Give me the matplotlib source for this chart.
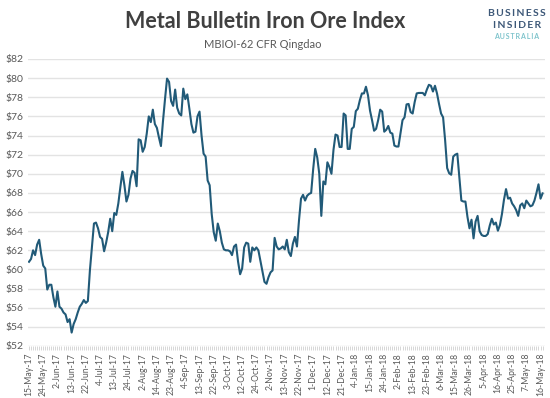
import matplotlib
matplotlib.use("Agg")
import matplotlib.pyplot as plt
import numpy as np

plt.rcParams['font.family'] = ['Lato', 'DejaVu Sans']

# x-axis labels, one every 7 trading days
tick_labels = [
    "15-May-17", "24-May-17", "2-Jun-17", "13-Jun-17", "22-Jun-17", "4-Jul-17",
    "13-Jul-17", "24-Jul-17", "2-Aug-17", "14-Aug-17", "23-Aug-17", "4-Sep-17",
    "13-Sep-17", "22-Sep-17", "3-Oct-17", "12-Oct-17", "24-Oct-17", "2-Nov-17",
    "13-Nov-17", "22-Nov-17", "1-Dec-17", "12-Dec-17", "21-Dec-17", "4-Jan-18",
    "15-Jan-18", "24-Jan-18", "2-Feb-18", "13-Feb-18", "23-Feb-18", "6-Mar-18",
    "15-Mar-18", "26-Mar-18", "5-Apr-18", "16-Apr-18", "25-Apr-18", "7-May-18",
    "16-May-18",
]

# daily index values (USD/t)
prices = [
    60.8, 61.1, 62.0, 61.5, 62.6, 63.1, 61.6, 60.4, 60.1, 57.9,
    58.4, 58.4, 57.1, 56.1, 57.7, 56.1, 55.9, 55.5, 55.3, 54.5,
    54.8, 53.4, 54.3, 54.8, 55.5, 56.1, 56.4, 56.8, 56.5, 56.7,
    59.9, 62.3, 64.8, 64.9, 64.3, 63.4, 63.2, 61.9, 62.8, 63.9,
    65.3, 64.0, 65.9, 65.7, 66.9, 68.6, 70.2, 68.8, 67.1, 67.8,
    69.5, 70.3, 70.1, 68.7, 73.6, 73.5, 72.3, 72.8, 74.2, 76.0,
    75.4, 76.7, 75.2, 74.8, 73.8, 72.9, 75.5, 77.8, 79.95, 79.6,
    77.6, 77.1, 78.8, 76.9, 76.3, 76.1, 78.9, 77.8, 78.3, 76.8,
    75.2, 74.3, 74.4, 76.0, 76.5, 74.0, 72.1, 71.8, 69.3, 68.8,
    65.8, 63.9, 63.0, 64.8, 64.0, 62.8, 62.1, 62.0, 62.0, 61.9,
    61.5, 62.4, 62.6, 60.8, 59.5, 60.1, 62.3, 62.8, 62.7, 60.8,
    62.3, 62.0, 62.3, 62.0, 60.9, 59.8, 58.7, 58.5, 59.2, 59.7,
    59.9, 63.3, 62.4, 62.1, 62.2, 62.4, 62.1, 63.1, 61.8, 61.4,
    62.7, 63.4, 62.4, 65.1, 67.4, 67.8, 67.2, 67.7, 67.9, 68.0,
    70.5, 72.6, 71.7, 70.0, 65.6, 69.2, 68.9, 71.2, 70.7, 70.0,
    72.5, 74.1, 74.0, 72.8, 72.8, 76.3, 76.1, 72.6, 72.6, 74.7,
    74.9, 76.55, 76.8, 77.7, 78.4, 78.4, 79.1, 78.2, 76.6, 75.6,
    74.5, 74.7, 75.6, 76.7, 76.5, 74.4, 74.6, 75.0, 74.3, 74.2,
    72.95, 72.85, 72.85, 74.2, 75.6, 75.9, 77.25, 77.3, 76.45, 76.3,
    77.5, 78.4, 78.45, 78.45, 78.45, 78.2, 78.8, 79.3, 79.2, 78.6,
    79.2, 78.4, 77.3, 76.3, 75.9, 73.5, 70.6, 70.05, 69.9, 71.8,
    72.0, 72.1, 69.7, 67.2, 67.1, 67.1, 65.5, 64.3, 65.2, 63.25,
    65.0, 65.6, 64.0, 63.6, 63.5, 63.5, 63.7, 64.6, 65.3, 64.7,
    64.9, 64.05, 64.65, 65.8, 67.3, 68.4, 67.4, 67.5, 66.9, 66.6,
    66.2, 65.6, 66.7, 66.9, 66.4, 67.2, 66.9, 66.6, 66.7, 67.2,
    68.0, 68.9, 67.4, 67.95,
]

y_ticks = list(range(52, 83, 2))

line_color = '#215a78'
grid_color = '#e3e3e3'
label_color = '#595959'

fig = plt.figure(figsize=(5.5, 3.98), dpi=100)
ax = fig.add_axes([0.0509, 0.1307, 0.94, 0.7211])

x = np.arange(len(prices))
ax.plot(x, prices, color=line_color, lw=1.5, solid_joinstyle='round')

ax.set_xlim(-0.5, 254.2)
ax.set_ylim(52, 82)
ax.set_yticks(y_ticks)
ax.set_yticklabels([f"${v}" for v in y_ticks])
ax.yaxis.grid(True, color=grid_color, lw=1)
ax.set_axisbelow(True)
for s in ax.spines.values():
    s.set_visible(False)

ax.set_xticks(x[::7][:len(tick_labels)])
ax.set_xticklabels(tick_labels, rotation=90)
ax.set_xticks(x, minor=True)
ax.tick_params(axis='x', which='both', length=3, width=0.6, color='#d0d0d0',
               labelsize=6.2, labelcolor=label_color, pad=2)
ax.tick_params(axis='y', length=0, labelsize=7.5, labelcolor=label_color, pad=3)

# titles
fig.text(0.482, 0.945, "Metal Bulletin Iron Ore Index", ha='center', va='center',
         fontsize=15.5, fontweight='bold', color='#404040')
fig.text(0.478, 0.889, "MBIOI-62 CFR Qingdao", ha='center', va='center',
         fontsize=8, color=label_color)

# logo, letter-spaced
sp = "\u2009"
fig.text(0.940, 0.967, sp.join("BUSINESS"), ha='center', va='center', fontsize=7.5,
         fontweight='bold', color='#3d5878')
fig.text(0.940, 0.937, sp.join("INSIDER"), ha='center', va='center', fontsize=7.5,
         fontweight='bold', color='#3d5878')
fig.text(0.940, 0.909, sp.join("AUSTRALIA"), ha='center', va='center', fontsize=5,
         fontweight='bold', color='#7fc4cc')

fig.savefig("out.png", dpi=100)
